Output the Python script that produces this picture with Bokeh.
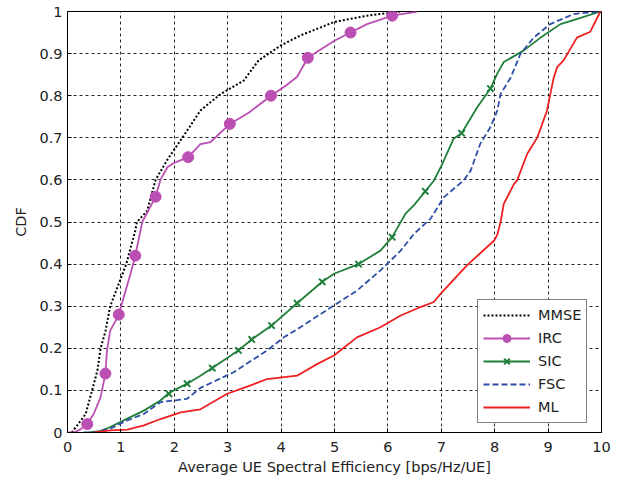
from bokeh.plotting import figure
from bokeh.models import Legend, LegendItem, Range1d, FixedTicker, CustomJSTickFormatter
from bokeh.embed import file_html
from bokeh.resources import INLINE

# ---- data ----
x_ticks = [0, 1, 2, 3, 4, 5, 6, 7, 8, 9, 10]
y_ticks = [0, 0.1, 0.2, 0.3, 0.4, 0.5, 0.6, 0.7, 0.8, 0.9, 1.0]

mmse_x = [0.08, 0.2, 0.34, 0.46, 0.56, 0.62, 0.71, 0.8, 0.95, 1.1, 1.27, 1.3, 1.49, 1.65, 1.87,
          2.15, 2.49, 2.87, 3.3, 3.58, 3.99, 4.36, 4.99, 5.61, 6.24]
mmse_y = [0.0, 0.02, 0.044, 0.1, 0.147, 0.2, 0.24, 0.3, 0.35, 0.4, 0.48, 0.5, 0.526, 0.6, 0.648,
          0.7, 0.765, 0.804, 0.836, 0.884, 0.919, 0.943, 0.975, 0.99, 1.0]

irc_x = [0.0, 0.12, 0.25, 0.37, 0.49, 0.62, 0.71, 0.74, 0.8, 0.9, 0.96, 1.05, 1.18, 1.27, 1.4, 1.65,
         1.74, 1.87, 1.99, 2.26, 2.49, 2.68, 3.04, 3.4, 3.81, 4.1, 4.3, 4.5, 4.99, 5.3, 5.61, 6.08, 6.55]
irc_y = [0.0, 0.0, 0.008, 0.02, 0.044, 0.084, 0.14, 0.195, 0.242, 0.265, 0.28, 0.32, 0.377, 0.42, 0.5, 0.56,
         0.6, 0.63, 0.64, 0.654, 0.685, 0.69, 0.733, 0.76, 0.8, 0.825, 0.845, 0.89, 0.93, 0.95, 0.97, 0.99, 1.0]
irc_mx = [0.37, 0.71, 0.96, 1.27, 1.65, 2.26, 3.04, 3.81, 4.5, 5.3, 6.08]
irc_my = [0.02, 0.14, 0.28, 0.42, 0.56, 0.654, 0.733, 0.8, 0.89, 0.95, 0.99]

sic_x = [0.4, 0.6, 0.8, 1.12, 1.43, 1.74, 1.9, 2.24, 2.49, 2.71, 3.2, 3.45, 3.82, 4.3, 4.77, 4.99,
         5.45, 5.86, 6.08, 6.33, 6.49, 6.7, 6.86, 7.02, 7.23, 7.38, 7.67, 7.92, 8.05, 8.17, 8.54,
         8.86, 9.23, 9.61, 9.98]
sic_y = [0.0, 0.003, 0.013, 0.033, 0.052, 0.076, 0.094, 0.116, 0.135, 0.153, 0.195, 0.221, 0.254,
         0.307, 0.358, 0.377, 0.4, 0.432, 0.464, 0.52, 0.54, 0.573, 0.598, 0.638, 0.698, 0.711,
         0.772, 0.817, 0.853, 0.88, 0.907, 0.938, 0.97, 0.985, 1.0]
sic_mx = [1.9, 2.24, 2.71, 3.2, 3.45, 3.82, 4.3, 4.77, 5.45, 6.08, 6.7, 7.38, 7.92]
sic_my = [0.092, 0.116, 0.153, 0.195, 0.221, 0.254, 0.307, 0.358, 0.4, 0.464, 0.573, 0.711, 0.817]

fsc_x = [0.3, 0.5, 0.8, 1.12, 1.43, 1.74, 1.99, 2.24, 2.49, 3.11, 3.74, 4.05, 4.36, 4.99, 5.42,
         5.86, 6.24, 6.49, 6.8, 7.05, 7.42, 7.55, 7.73, 7.92, 8.05, 8.11, 8.3, 8.48, 8.73, 9.04,
         9.48, 9.98]
fsc_y = [0.0, 0.0, 0.009, 0.029, 0.044, 0.072, 0.076, 0.08, 0.106, 0.143, 0.195, 0.226, 0.25,
         0.302, 0.337, 0.385, 0.432, 0.472, 0.508, 0.559, 0.599, 0.622, 0.686, 0.725, 0.765,
         0.804, 0.843, 0.899, 0.938, 0.97, 0.994, 1.0]

ml_x = [0.5, 0.8, 1.12, 1.43, 1.74, 2.12, 2.49, 2.99, 3.43, 3.74, 4.3, 4.68, 4.99, 5.42, 5.86,
        6.24, 6.61, 6.86, 6.99, 7.48, 7.99, 8.05, 8.11, 8.17, 8.36, 8.42, 8.61, 8.8, 8.98, 9.1,
        9.17, 9.29, 9.54, 9.79, 9.98]
ml_y = [0.0, 0.005, 0.007, 0.017, 0.032, 0.048, 0.055, 0.092, 0.112, 0.127, 0.135, 0.163, 0.183,
        0.226, 0.25, 0.278, 0.298, 0.31, 0.33, 0.397, 0.456, 0.47, 0.5, 0.543, 0.59, 0.599, 0.662,
        0.701, 0.765, 0.84, 0.868, 0.884, 0.938, 0.952, 1.0]

# ---- figure ----
FONT = "DejaVu Sans"
FS = "14.5px"
TXT = "#222222"

p = figure(width=622, height=481, output_backend="svg", toolbar_location=None,
           x_range=Range1d(0, 10), y_range=Range1d(0, 1),
           min_border_left=67, min_border_right=21, min_border_top=11, min_border_bottom=49,
           background_fill_color="white", border_fill_color="white")
p.outline_line_color = "black"
p.outline_line_width = 1

for ax in (p.xaxis[0], p.yaxis[0]):
    ax.major_tick_in = 4
    ax.major_tick_out = 0
    ax.minor_tick_line_color = None
    ax.axis_line_color = "black"
    ax.major_tick_line_color = "black"
    ax.major_label_text_font = FONT
    ax.major_label_text_font_size = FS
    ax.major_label_text_color = TXT
    ax.axis_label_text_font = FONT
    ax.axis_label_text_font_size = FS
    ax.axis_label_text_font_style = "normal"
    ax.axis_label_text_color = TXT

p.xaxis[0].ticker = FixedTicker(ticks=x_ticks)
p.yaxis[0].ticker = FixedTicker(ticks=y_ticks)
p.yaxis[0].formatter = CustomJSTickFormatter(code="return tick.toFixed(1).replace(/\\.0$/, '');")
p.xaxis[0].axis_label = "Average UE Spectral Efficiency [bps/Hz/UE]"
p.yaxis[0].axis_label = "CDF"
p.xaxis[0].major_label_standoff = 9
p.yaxis[0].major_label_standoff = 5
p.xaxis[0].axis_label_standoff = 4
p.yaxis[0].axis_label_standoff = 7

for g, tk in ((p.xgrid[0], x_ticks), (p.ygrid[0], y_ticks)):
    g.ticker = FixedTicker(ticks=tk)
    g.grid_line_color = "black"
    g.grid_line_alpha = 0.85
    g.grid_line_dash = "3 3"
    g.grid_line_width = 1

r_mmse = p.line(mmse_x, mmse_y, line_color="black", line_width=2, line_dash="2 2")
r_irc = p.line(irc_x, irc_y, line_color="#bb4fb3", line_width=1.8)
r_ircm = p.scatter(irc_mx, irc_my, marker="circle", size=11, fill_color="#bb4fb3", line_color="#bb4fb3")
r_sic = p.line(sic_x, sic_y, line_color="#1f7f3b", line_width=1.8)
r_sicm = p.scatter(sic_mx, sic_my, marker="x", size=9, line_color="#1f7f3b", line_width=2)
r_fsc = p.line(fsc_x, fsc_y, line_color="#2f4fa8", line_width=1.8, line_dash="6 3")
r_ml = p.line(ml_x, ml_y, line_color="#ee2020", line_width=1.8)

legend = Legend(items=[
    LegendItem(label="MMSE", renderers=[r_mmse]),
    LegendItem(label="IRC", renderers=[r_irc, r_ircm]),
    LegendItem(label="SIC", renderers=[r_sic, r_sicm]),
    LegendItem(label="FSC", renderers=[r_fsc]),
    LegendItem(label="ML", renderers=[r_ml]),
], location=(410, 9))
legend.border_line_color = "black"
legend.border_line_width = 1
legend.background_fill_color = "white"
legend.background_fill_alpha = 1
legend.label_text_font = FONT
legend.label_text_font_size = FS
legend.label_text_color = TXT
legend.glyph_width = 47
legend.glyph_height = 20
legend.label_height = 20
legend.spacing = 3
legend.padding = 5
legend.margin = 0
legend.label_standoff = 8
p.add_layout(legend, "center")

open("out.html", "w").write(file_html(p, INLINE))
